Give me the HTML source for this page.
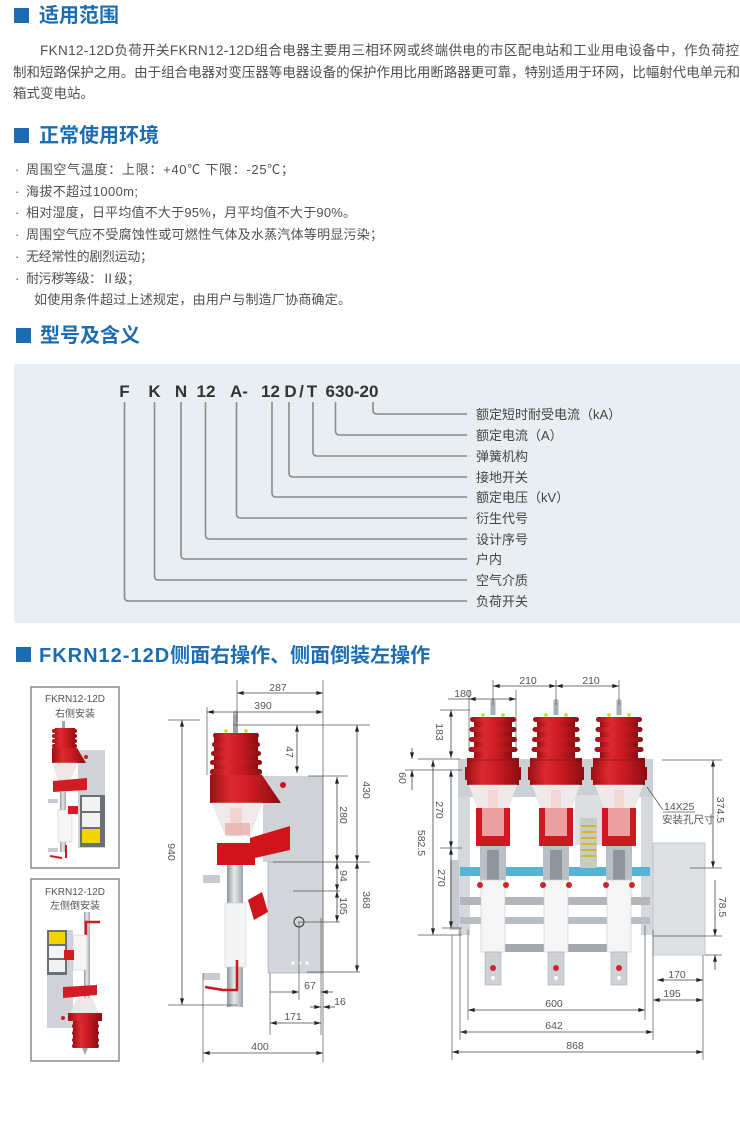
<!DOCTYPE html>
<html><head><meta charset="utf-8"><style>
html,body{margin:0;padding:0;background:#fff;width:740px;height:1132px;overflow:hidden}
svg{display:block}
.h{font-family:"Liberation Sans","Noto Sans CJK SC",sans-serif;font-weight:bold;font-size:20px;fill:#1b6cb3}
.p{font-family:"Liberation Sans","Noto Sans CJK SC",sans-serif;font-size:13.5px;fill:#505050}
.b{font-family:"Liberation Sans","Noto Sans CJK SC",sans-serif;font-size:13px;fill:#505050}
.m{font-family:"Liberation Sans",sans-serif;font-weight:bold;font-size:17px;fill:#333}
.l{font-family:"Liberation Sans","Noto Sans CJK SC",sans-serif;font-size:13px;fill:#444}
.d{font-family:"Liberation Sans","Noto Sans CJK SC",sans-serif;font-size:10.5px;fill:#555}
.s{font-family:"Liberation Sans","Noto Sans CJK SC",sans-serif;font-size:10px;fill:#555}
.dl{stroke:#444;stroke-width:0.8;fill:none}
.ex{stroke:#555;stroke-width:0.7;fill:none}
.ml{stroke:#8a8a8a;stroke-width:1.6;fill:none}
</style></head><body>
<svg width="740" height="1132" viewBox="0 0 740 1132" xmlns="http://www.w3.org/2000/svg">
<defs>
<marker id="a" viewBox="0 0 10 6" refX="10" refY="3" markerWidth="7" markerHeight="4" orient="auto-start-reverse" markerUnits="userSpaceOnUse"><path d="M0,0 L10,3 L0,6 z" fill="#222"/></marker>
<linearGradient id="rg" x1="0" y1="0" x2="1" y2="0"><stop offset="0" stop-color="#9a0f14"/><stop offset="0.3" stop-color="#dc2a2f"/><stop offset="0.6" stop-color="#c81b21"/><stop offset="1" stop-color="#8a0d11"/></linearGradient>
<linearGradient id="gg" x1="0" y1="0" x2="1" y2="0"><stop offset="0" stop-color="#8d949a"/><stop offset="0.45" stop-color="#e6e9ec"/><stop offset="1" stop-color="#a0a6ac"/></linearGradient>
</defs>

<!-- Header 1 -->
<rect x="14" y="8" width="15" height="15" fill="#1b6cb3"/>
<text class="h" x="39" y="22">适用范围</text>
<text class="p" x="40" y="55" textLength="699" lengthAdjust="spacing">FKN12-12D负荷开关FKRN12-12D组合电器主要用三相环网或终端供电的市区配电站和工业用电设备中，作负荷控</text>
<text class="p" x="13" y="77" textLength="727" lengthAdjust="spacing">制和短路保护之用。由于组合电器对变压器等电器设备的保护作用比用断路器更可靠，特别适用于环网，比幅射代电单元和</text>
<text class="p" x="13" y="98">箱式变电站。</text>

<!-- Header 2 -->
<rect x="14" y="128" width="15" height="15" fill="#1b6cb3"/>
<text class="h" x="39" y="142">正常使用环境</text>
<g class="b">
<text x="15" y="174">·</text><text x="26" y="174" textLength="268" lengthAdjust="spacing">周围空气温度：上限：+40℃   下限：-25℃；</text>
<text x="15" y="196">·</text><text x="26" y="196" textLength="112" lengthAdjust="spacing">海拔不超过1000m;</text>
<text x="15" y="217">·</text><text x="26" y="217" textLength="330" lengthAdjust="spacing">相对湿度，日平均值不大于95%，月平均值不大于90%。</text>
<text x="15" y="239">·</text><text x="26" y="239" textLength="357" lengthAdjust="spacing">周围空气应不受腐蚀性或可燃性气体及水蒸汽体等明显污染；</text>
<text x="15" y="261">·</text><text x="26" y="261" textLength="127" lengthAdjust="spacing">无经常性的剧烈运动；</text>
<text x="15" y="283">·</text><text x="26" y="283" textLength="114" lengthAdjust="spacing">耐污秽等级：Ⅱ级；</text>
<text x="34" y="304" textLength="317" lengthAdjust="spacing">如使用条件超过上述规定，由用户与制造厂协商确定。</text>
</g>

<!-- Header 3 -->
<rect x="16" y="328" width="15" height="15" fill="#1b6cb3"/>
<text class="h" x="40" y="342">型号及含义</text>

<rect x="14" y="364" width="726" height="259" fill="#e8eef2"/>
<g class="m" text-anchor="middle">
<text x="124.5" y="397">F</text>
<text x="154.5" y="397">K</text>
<text x="181" y="397">N</text>
<text x="206" y="397">12</text>
<text x="239" y="397">A-</text>
<text x="270.5" y="397">12</text>
<text x="290.5" y="397">D</text>
<text x="301.5" y="397">/</text>
<text x="312" y="397">T</text>
<text x="352" y="397">630-20</text>
</g>
<g class="ml">
<path d="M124.5 402 V597 Q124.5 601 128.5 601 H467"/>
<path d="M154.5 402 V576 Q154.5 580 158.5 580 H467"/>
<path d="M181 402 V555 Q181 559 185 559 H467"/>
<path d="M205.5 402 V535 Q205.5 539 209.5 539 H467"/>
<path d="M236.5 402 V514 Q236.5 518 240.5 518 H467"/>
<path d="M272 402 V493 Q272 497 276 497 H467"/>
<path d="M289 402 V473 Q289 477 293 477 H467"/>
<path d="M313 402 V452 Q313 456 317 456 H467"/>
<path d="M335.5 402 V431 Q335.5 435 339.5 435 H467"/>
<path d="M373 402 V410 Q373 414 377 414 H467"/>
</g>
<g class="l">
<text x="476" y="419">额定短时耐受电流（kA）</text>
<text x="476" y="440">额定电流（A）</text>
<text x="476" y="461">弹簧机构</text>
<text x="476" y="482">接地开关</text>
<text x="476" y="502">额定电压（kV）</text>
<text x="476" y="523">衍生代号</text>
<text x="476" y="544">设计序号</text>
<text x="476" y="564">户内</text>
<text x="476" y="585">空气介质</text>
<text x="476" y="606">负荷开关</text>
</g>

<!-- Header 4 -->
<rect x="16" y="647" width="15" height="15" fill="#1b6cb3"/>
<text class="h" x="39" y="662"><tspan letter-spacing="1">FKRN12-12D</tspan>侧面右操作、侧面倒装左操作</text>

<!-- Left small box 1 -->
<rect x="31" y="687" width="88" height="181" fill="#fff" stroke="#8a8a8a" stroke-width="1.5"/>
<text class="s" x="75" y="702" text-anchor="middle">FKRN12-12D</text>
<text class="s" x="75" y="717" text-anchor="middle">右侧安装</text>
<rect x="78" y="750" width="27" height="98" fill="#cfd3d7"/>
<rect x="80" y="795" width="25" height="52" fill="#6b7075"/>
<rect x="82" y="797" width="18" height="14" fill="#f2f2f2"/>
<rect x="82" y="813" width="18" height="14" fill="#f2f2f2"/>
<rect x="82" y="829" width="18" height="14" fill="#f2d500"/>
<rect x="62" y="721" width="3" height="8" fill="#9aa"/>
<rect x="55" y="728" width="20" height="20" fill="url(#rg)"/>
<rect x="52" y="729" width="25" height="4" rx="2" fill="url(#rg)"/>
<rect x="52" y="734" width="25" height="4" rx="2" fill="url(#rg)"/>
<rect x="52" y="739" width="25" height="4" rx="2" fill="url(#rg)"/>
<rect x="52" y="744" width="25" height="4" rx="2" fill="url(#rg)"/>
<polygon points="52,748 77,748 86,763 52,763" fill="url(#rg)"/>
<polygon points="53,763 77,763 70,780 58,780" fill="#efe7e7" stroke="#ddd" stroke-width="0.5"/>
<polygon points="53,781 87,778 87,790 53,792" fill="#d01c22"/>
<rect x="60" y="792" width="6" height="60" fill="url(#gg)"/>
<rect x="58" y="810" width="14" height="32" fill="#f5f5f5" stroke="#ccc" stroke-width="0.6"/>
<rect x="68" y="806" width="10" height="8" fill="#d01c22"/>
<circle cx="86" cy="757" r="2" fill="#d01c22"/>
<rect x="48" y="799" width="10" height="4" fill="#c8ccd0"/>
<rect x="48" y="848" width="10" height="4" fill="#c8ccd0"/>
<path d="M50 856 L62 858 M66 845 V858" stroke="#d01c22" stroke-width="2" fill="none"/>

<!-- Left small box 2 -->
<rect x="31" y="879" width="88" height="182" fill="#fff" stroke="#8a8a8a" stroke-width="1.5"/>
<text class="s" x="75" y="895" text-anchor="middle">FKRN12-12D</text>
<text class="s" x="75" y="909" text-anchor="middle">左侧倒安装</text>
<rect x="47" y="930" width="26" height="98" fill="#cfd3d7"/>
<rect x="47" y="930" width="20" height="45" fill="#6b7075"/>
<rect x="49" y="932" width="16" height="12" fill="#f2d500"/>
<rect x="49" y="946" width="16" height="12" fill="#f2f2f2"/>
<rect x="49" y="960" width="16" height="12" fill="#f2f2f2"/>
<rect x="84" y="912" width="6" height="88" fill="url(#gg)"/>
<path d="M86 936 V922 H100" stroke="#d01c22" stroke-width="2.5" fill="none"/>
<rect x="73" y="935" width="14" height="35" fill="#f5f5f5" stroke="#ccc" stroke-width="0.6"/>
<rect x="64" y="950" width="10" height="10" fill="#d01c22"/>
<polygon points="63,987 97,985 97,995 63,998" fill="#d01c22"/>
<polygon points="78,998 92,998 98,1013 70,1013" fill="#efe7e7" stroke="#ddd" stroke-width="0.5"/>
<rect x="68" y="1013" width="34" height="8" fill="url(#rg)"/>
<rect x="73" y="1021" width="25" height="27" fill="url(#rg)"/>
<rect x="72" y="1024" width="27" height="4" rx="2" fill="url(#rg)"/>
<rect x="72" y="1031" width="27" height="4" rx="2" fill="url(#rg)"/>
<rect x="72" y="1038" width="27" height="4" rx="2" fill="url(#rg)"/>
<rect x="72" y="1044" width="27" height="4" rx="2" fill="url(#rg)"/>
<polygon points="82,1048 88,1048 85,1055" fill="#9aa"/>
<circle cx="63" cy="1018" r="2" fill="#d01c22"/>

<!-- Middle side view -->
<rect x="263" y="776" width="60" height="86" fill="#cfd3d7"/>
<rect x="268" y="862" width="55" height="111" fill="#d3d6da" stroke="#9aa0a6" stroke-width="0.6"/>
<rect x="227" y="860" width="16" height="147" fill="url(#gg)"/>
<rect x="233" y="712" width="5" height="21" fill="#9aa3aa"/>
<circle cx="235.5" cy="713" r="2.2" fill="#b5bcc2"/>
<circle cx="226" cy="731" r="1.6" fill="#e8c000"/>
<circle cx="246" cy="731" r="1.6" fill="#e8c000"/>
<rect x="214" y="733" width="44" height="42" fill="url(#rg)"/>
<rect x="213" y="733" width="46" height="5" rx="2.5" fill="url(#rg)"/>
<rect x="212" y="742" width="48" height="5" rx="2.5" fill="url(#rg)"/>
<rect x="211" y="751" width="50" height="5" rx="2.5" fill="url(#rg)"/>
<rect x="210" y="760" width="52" height="5" rx="2.5" fill="url(#rg)"/>
<rect x="210" y="769" width="52" height="6" rx="2.5" fill="url(#rg)"/>
<polygon points="210,775 262,775 281,803 210,803" fill="url(#rg)"/>
<polygon points="212,803 262,803 250,836 226,836" fill="#f0eaea" stroke="#ddd" stroke-width="0.5"/>
<rect x="230" y="808" width="12" height="28" fill="#f3d2d2"/>
<rect x="225" y="823" width="25" height="12" fill="#eab0b0" opacity="0.8"/>
<polygon points="217,843 250,843 250,838 290,826 290,850 255,858 255,865 217,865" fill="#d0141c"/>
<polygon points="248,900 262,892 268,912 254,920" fill="#d0141c"/>
<rect x="225" y="903" width="21" height="64" fill="#f4f4f4" stroke="#ccc" stroke-width="0.6"/>
<circle cx="283" cy="785" r="3" fill="#d0141c"/>
<rect x="203" y="875" width="17" height="8" fill="#c8ccd0"/>
<rect x="203" y="973" width="17" height="7" fill="#c8ccd0"/>
<path d="M205 987 L223 990 H237 V960" stroke="#d0141c" stroke-width="2.5" fill="none"/>
<circle cx="299" cy="922" r="5" fill="none" stroke="#333" stroke-width="1"/>
<circle cx="293" cy="963" r="1.6" fill="#fff"/><circle cx="300" cy="963" r="1.6" fill="#fff"/><circle cx="307" cy="963" r="1.6" fill="#fff"/>

<!-- middle dims -->
<g class="ex">
<line x1="237" y1="680" x2="237" y2="722"/>
<line x1="323" y1="680" x2="323" y2="1062"/>
<line x1="207" y1="707" x2="207" y2="775"/>
<line x1="168" y1="720" x2="200" y2="720"/>
<line x1="168" y1="1005" x2="237" y2="1005"/>
<line x1="233" y1="725" x2="370" y2="725"/>
<line x1="308" y1="776" x2="348" y2="776"/>
<line x1="273" y1="862" x2="370" y2="862"/>
<line x1="293" y1="891" x2="340" y2="891"/>
<line x1="298" y1="922" x2="340" y2="922"/>
<line x1="307" y1="972" x2="360" y2="972"/>
<line x1="299" y1="922" x2="299" y2="1000"/>
<line x1="321" y1="918" x2="321" y2="1035"/>
<line x1="270" y1="973" x2="270" y2="1035"/>
<line x1="203" y1="973" x2="203" y2="1062"/>
</g>
<g class="dl">
<line x1="237" y1="693" x2="323" y2="693" marker-start="url(#a)" marker-end="url(#a)"/>
<line x1="207" y1="712" x2="323" y2="712" marker-start="url(#a)" marker-end="url(#a)"/>
<line x1="182" y1="720" x2="182" y2="1005" marker-start="url(#a)" marker-end="url(#a)"/>
<line x1="297" y1="725" x2="297" y2="773" marker-start="url(#a)" marker-end="url(#a)"/>
<line x1="357" y1="725" x2="357" y2="862" marker-start="url(#a)" marker-end="url(#a)"/>
<line x1="337" y1="777" x2="337" y2="862" marker-start="url(#a)" marker-end="url(#a)"/>
<line x1="337" y1="862" x2="337" y2="891" marker-start="url(#a)" marker-end="url(#a)"/>
<line x1="337" y1="891" x2="337" y2="922" marker-start="url(#a)" marker-end="url(#a)"/>
<line x1="357" y1="862" x2="357" y2="972" marker-start="url(#a)" marker-end="url(#a)"/>
<line x1="270" y1="992" x2="299" y2="992" marker-end="url(#a)"/>
<line x1="333" y1="992" x2="321" y2="992" marker-end="url(#a)"/>
<line x1="310" y1="1007" x2="321" y2="1007" marker-end="url(#a)"/>
<line x1="335" y1="1007" x2="323" y2="1007" marker-end="url(#a)"/>
<line x1="270" y1="1023" x2="321" y2="1023" marker-start="url(#a)" marker-end="url(#a)"/>
<line x1="203" y1="1053" x2="323" y2="1053" marker-start="url(#a)" marker-end="url(#a)"/>
</g>
<g class="d" text-anchor="middle">
<text x="278" y="691">287</text>
<text x="263" y="709">390</text>
<text x="310" y="989">67</text>
<text x="340" y="1005">16</text>
<text x="293" y="1020">171</text>
<text x="260" y="1050">400</text>
<text transform="rotate(90 172 852)" x="172" y="856">940</text>
<text transform="rotate(90 290 752)" x="290" y="756">47</text>
<text transform="rotate(90 367 790)" x="367" y="794">430</text>
<text transform="rotate(90 344 815)" x="344" y="819">280</text>
<text transform="rotate(90 344 876)" x="344" y="880">94</text>
<text transform="rotate(90 344 906)" x="344" y="910">105</text>
<text transform="rotate(90 367 900)" x="367" y="904">368</text>
</g>

<!-- Right front view -->
<rect x="458" y="759" width="195" height="38" fill="#cbd0d5"/>
<rect x="458" y="797" width="12" height="138" fill="#d5d9dd"/>
<rect x="641" y="797" width="12" height="138" fill="#d5d9dd"/>
<rect x="575" y="795" width="30" height="50" fill="#dcdfe2"/>
<rect x="450" y="860" width="9" height="70" fill="#c5cacf"/>
<rect x="460" y="867" width="190" height="9" fill="#56b4d6"/>
<rect x="460" y="897" width="190" height="8" fill="#b0b6bc"/>
<rect x="460" y="917" width="190" height="7" fill="#b8bec4"/>
<rect x="500" y="944" width="107" height="8" fill="#a3a9af"/>
<rect x="653" y="843" width="52" height="112" fill="#dde1e4" stroke="#b5b9bd" stroke-width="0.7"/>
<rect x="580" y="818" width="17" height="50" fill="#c9ccc0"/>
<g stroke="#d4b000" stroke-width="1.5"><line x1="581" y1="826" x2="596" y2="826"/><line x1="581" y1="832" x2="596" y2="832"/><line x1="581" y1="838" x2="596" y2="838"/><line x1="581" y1="844" x2="596" y2="844"/><line x1="581" y1="850" x2="596" y2="850"/><line x1="581" y1="856" x2="596" y2="856"/></g>

<g id="ins">
<rect x="490.5" y="700" width="5" height="15" fill="#a8aeb4"/>
<circle cx="493" cy="701" r="2" fill="#b8bec4"/>
<circle cx="483" cy="715" r="1.8" fill="#f0c419"/><circle cx="503" cy="715" r="1.8" fill="#f0c419"/>
<rect x="474" y="717" width="38" height="42" fill="url(#rg)"/>
<rect x="470" y="717" width="46" height="5" rx="2.5" fill="url(#rg)"/>
<rect x="469.5" y="727" width="47" height="5" rx="2.5" fill="url(#rg)"/>
<rect x="469" y="737" width="48" height="5" rx="2.5" fill="url(#rg)"/>
<rect x="468.5" y="747" width="49" height="5" rx="2.5" fill="url(#rg)"/>
<rect x="467" y="758" width="52" height="27" fill="url(#rg)"/>
<rect x="465" y="767" width="56" height="13" fill="url(#rg)"/>
<line x1="467" y1="760" x2="519" y2="760" stroke="#8a0d11" stroke-width="0.8"/>
<polygon points="469,785 517,785 507,812 479,812" fill="#efe9e9" stroke="#ddd" stroke-width="0.5"/>
<rect x="488" y="790" width="10" height="22" fill="#f3d6d6"/>
<rect x="476" y="808" width="34" height="38" fill="#cc1a20"/>
<rect x="482" y="808" width="22" height="28" fill="#f0b8b8" opacity="0.85"/>
<rect x="480" y="846" width="26" height="35" fill="#b9bfc5"/>
<rect x="487" y="850" width="12" height="30" fill="#8e959c"/>
<rect x="481" y="880" width="24" height="72" fill="#f6f6f6" stroke="#cfcfcf" stroke-width="0.7"/>
<circle cx="480" cy="885" r="3" fill="#d0242a"/><circle cx="506" cy="885" r="3" fill="#d0242a"/>
<rect x="485" y="952" width="16" height="33" fill="#cdd1d5" stroke="#aaa" stroke-width="0.6"/>
<circle cx="493" cy="968" r="3" fill="#d0242a"/>
<circle cx="493" cy="978" r="2" fill="#fff"/>
</g>
<use href="#ins" x="63"/>
<use href="#ins" x="126"/>

<!-- right dims -->
<g class="ex">
<line x1="493" y1="680" x2="493" y2="705"/>
<line x1="556" y1="680" x2="556" y2="705"/>
<line x1="619" y1="680" x2="619" y2="705"/>
<line x1="469" y1="690" x2="469" y2="750"/>
<line x1="516" y1="690" x2="516" y2="750"/>
<line x1="440" y1="710" x2="470" y2="710"/>
<line x1="418" y1="759" x2="460" y2="759"/>
<line x1="405" y1="770" x2="462" y2="770"/>
<line x1="440" y1="848" x2="462" y2="848"/>
<line x1="442" y1="928" x2="462" y2="928"/>
<line x1="418" y1="935" x2="462" y2="935"/>
<line x1="662" y1="760" x2="722" y2="760"/>
<line x1="690" y1="868" x2="722" y2="868"/>
<line x1="653" y1="936" x2="722" y2="936"/>
<line x1="705" y1="955" x2="722" y2="955"/>
<line x1="452" y1="935" x2="452" y2="1060"/>
<line x1="460" y1="928" x2="460" y2="1040"/>
<line x1="468" y1="930" x2="468" y2="1020"/>
<line x1="645" y1="925" x2="645" y2="1020"/>
<line x1="653" y1="930" x2="653" y2="1040"/>
<line x1="703" y1="955" x2="703" y2="1060"/>
<line x1="647" y1="787" x2="663" y2="810"/>
<line x1="663" y1="812" x2="695" y2="812"/>
</g>
<g class="dl">
<line x1="493" y1="686" x2="556" y2="686" marker-start="url(#a)" marker-end="url(#a)"/>
<line x1="556" y1="686" x2="619" y2="686" marker-start="url(#a)" marker-end="url(#a)"/>
<line x1="469" y1="699" x2="516" y2="699" marker-start="url(#a)" marker-end="url(#a)"/>
<line x1="448" y1="699" x2="469" y2="699"/>
<line x1="451" y1="710" x2="451" y2="758" marker-start="url(#a)" marker-end="url(#a)"/>
<line x1="412" y1="748" x2="412" y2="759" marker-end="url(#a)"/>
<line x1="412" y1="790" x2="412" y2="770" marker-end="url(#a)"/>
<line x1="451" y1="770" x2="451" y2="848" marker-start="url(#a)" marker-end="url(#a)"/>
<line x1="433" y1="760" x2="433" y2="935" marker-start="url(#a)" marker-end="url(#a)"/>
<line x1="451" y1="848" x2="451" y2="928" marker-start="url(#a)" marker-end="url(#a)"/>
<line x1="713" y1="760" x2="713" y2="868" marker-start="url(#a)" marker-end="url(#a)"/>
<line x1="715" y1="880" x2="715" y2="936" marker-end="url(#a)"/>
<line x1="715" y1="970" x2="715" y2="955" marker-end="url(#a)"/>
<line x1="657" y1="980" x2="703" y2="980" marker-start="url(#a)" marker-end="url(#a)"/>
<line x1="653" y1="1000" x2="703" y2="1000" marker-start="url(#a)" marker-end="url(#a)"/>
<line x1="468" y1="1010" x2="645" y2="1010" marker-start="url(#a)" marker-end="url(#a)"/>
<line x1="460" y1="1032" x2="653" y2="1032" marker-start="url(#a)" marker-end="url(#a)"/>
<line x1="452" y1="1052" x2="703" y2="1052" marker-start="url(#a)" marker-end="url(#a)"/>
</g>
<g class="d" text-anchor="middle">
<text x="528" y="684">210</text>
<text x="591" y="684">210</text>
<text x="463" y="697">180</text>
<text x="677" y="978">170</text>
<text x="672" y="997">195</text>
<text x="554" y="1007">600</text>
<text x="554" y="1029">642</text>
<text x="575" y="1049">868</text>
<text transform="rotate(90 440 732)" x="440" y="736">183</text>
<text transform="rotate(90 403 778)" x="403" y="782">60</text>
<text transform="rotate(90 440 810)" x="440" y="814">270</text>
<text transform="rotate(90 422 843)" x="422" y="847">582.5</text>
<text transform="rotate(90 442 878)" x="442" y="882">270</text>
<text transform="rotate(90 721 810)" x="721" y="814">374.5</text>
<text transform="rotate(90 723 907)" x="723" y="911">78.5</text>
</g>
<text class="d" x="664" y="810">14X25</text>
<text class="d" x="662" y="823">安装孔尺寸</text>
</svg>
</body></html>
